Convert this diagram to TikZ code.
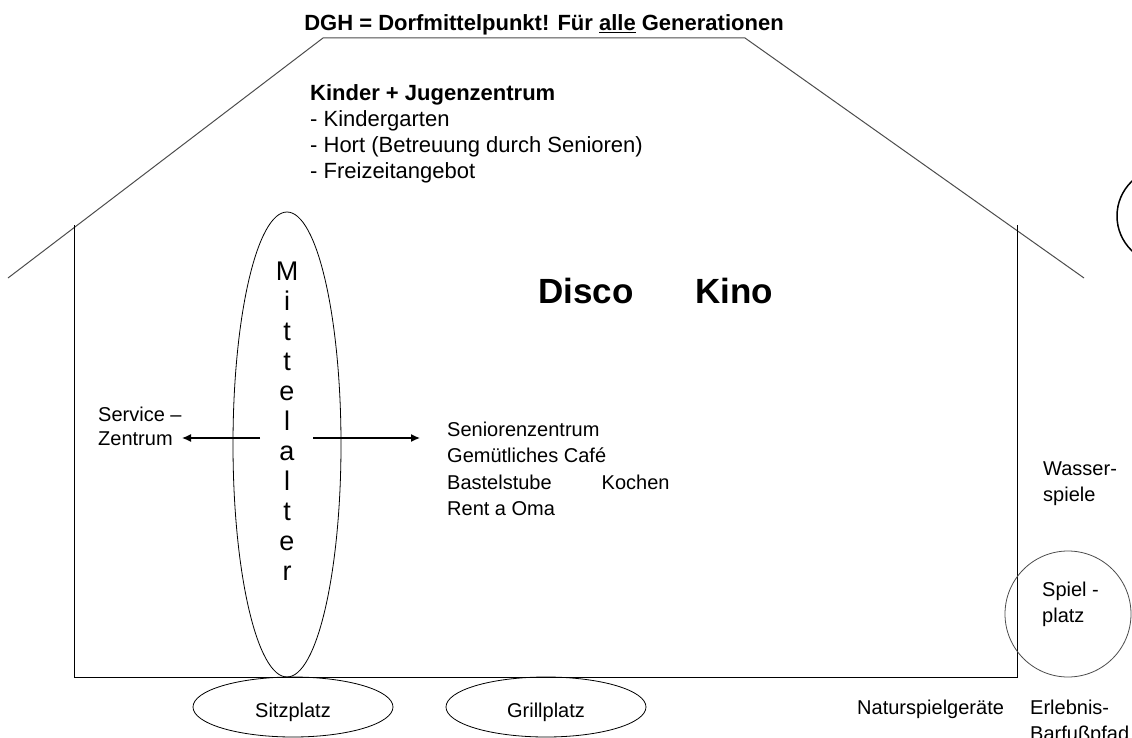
\documentclass[tikz,border=0pt]{standalone}
\usepackage{fontspec}
\setmainfont{Liberation Sans}
\usetikzlibrary{arrows.meta,shapes.geometric,positioning}

\begin{document}
\begin{tikzpicture}[x=1pt,y=-1pt]
\tikzstyle{txt}=[inner sep=0pt,align=left,anchor=north west,font=\fontsize{20}{26}\selectfont]
\tikzstyle{platz}=[ellipse,draw,line width=0.8pt,minimum width=200pt,minimum height=60pt,inner sep=0pt,text height=20pt,text depth=0pt,font=\fontsize{20}{24}\selectfont]
\tikzstyle{pfeil}=[-{Latex[length=9pt,width=8pt]},line width=1.3pt]
\tikzstyle{wand}=[line width=1pt]
\useasboundingbox (0,0) rectangle (1132,738);
\clip (0,0) rectangle (1132,738);
% Haus
\draw[wand,gray!60!black] (8,278) -- (323,38) -- (745,38) -- (1084,278);
\draw[wand] (74,225) -- (74,677) -- (1017,677) -- (1017,225);
\node[anchor=base,inner sep=0pt,font=\fontsize{22}{26}\selectfont\bfseries] (titel) at (544,31)
  {DGH = Dorfmittelpunkt! Für \underline{alle} Generationen};
\node[txt,font=\fontsize{22}{26}\selectfont] (kinder) at (310,84)
  {\textbf{Kinder + Jugenzentrum}\\- Kindergarten\\- Hort (Betreuung durch Senioren)\\- Freizeitangebot};
\node[anchor=base west,inner sep=0pt,font=\fontsize{35}{40}\selectfont\bfseries] (disco) at (538,303) {Disco};
\node[anchor=base west,inner sep=0pt,font=\fontsize{35}{40}\selectfont\bfseries] (kino) at (695,303) {Kino};
% Mittelalter
\node[ellipse,draw,line width=0.8pt,minimum width=108pt,minimum height=465pt,inner sep=0pt] (mittel) at (287,444.5) {};
\node[inner sep=0pt,align=center,anchor=north,font=\fontsize{27}{30}\selectfont] (mittelalter) at (287,262)
  {M\\i\\t\\t\\e\\l\\a\\l\\t\\e\\r};
\node[txt,font=\fontsize{20}{23.5}\selectfont] (service) at (98,407) {Service --\\Zentrum};
\node[txt,font=\fontsize{20}{26.3}\selectfont] (senioren) at (447,422)
  {Seniorenzentrum\\Gemütliches Café\\Bastelstube\hspace{50pt}Kochen\\Rent a Oma};
\coordinate (ml) at (260,438);
\coordinate (sl) at (182,438);
\coordinate (mr) at (313,438);
\coordinate (sr) at (420,438);
\draw[pfeil] (ml) -- (sl);
\draw[pfeil] (mr) -- (sr);
% Aussen
\node[circle,draw,line width=1.5pt,minimum size=96pt] (kreis) at (1165,216) {};
\node[circle,draw,gray!60!black,line width=0.8pt,minimum size=126pt] (spielkreis) at (1068,614) {};
\node[txt] (wasser) at (1043,462) {Wasser-\\spiele};
\node[txt] (spielplatz) at (1042,582) {Spiel -\\platz};
\node[platz] (sitz) at (293,707) {Sitzplatz};
\node[platz] (grill) at (546,707) {Grillplatz};
\node[txt] (natur) at (857,700) {Naturspielgeräte};
\node[txt] (erlebnis) at (1030,700) {Erlebnis-\\Barfußpfad};
\end{tikzpicture}
\end{document}
